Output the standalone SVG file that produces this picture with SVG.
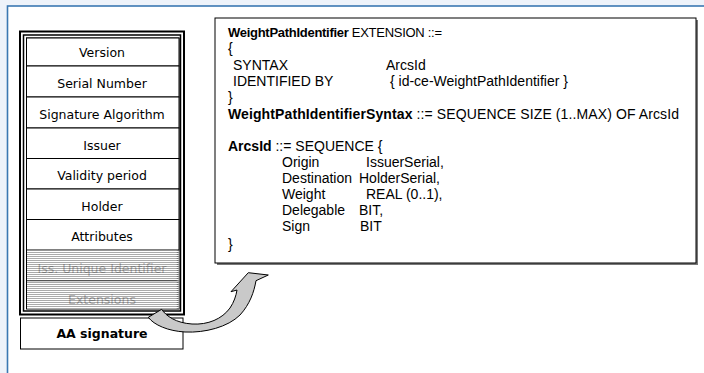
<svg xmlns="http://www.w3.org/2000/svg" width="704" height="373" viewBox="0 0 704 373">
<style>
.f{font-family:"DejaVu Sans","Liberation Sans",sans-serif;font-size:12.5px;fill:#000;text-anchor:middle}
.g{font-family:"DejaVu Sans","Liberation Sans",sans-serif;font-size:12.5px;fill:#7a7a7a;text-anchor:middle}
.t{font-family:"Liberation Sans",Arial,sans-serif;font-size:14px;fill:#000}
.t1{font-family:"Liberation Sans",Arial,sans-serif;font-size:13px;fill:#000}
.b{font-weight:bold}
.row{fill:#fff;stroke:#000;stroke-width:1}
</style>
<defs>
<pattern id="hatch" width="4" height="2" patternUnits="userSpaceOnUse">
<rect width="4" height="2" fill="#fff"/>
<rect width="4" height="1" fill="#aaaaaa"/>
</pattern>
<pattern id="over" width="4" height="2" patternUnits="userSpaceOnUse">
<rect y="1" width="4" height="1" fill="#fff" fill-opacity="0.45"/>
</pattern>
</defs>
<rect width="704" height="373" fill="#eef3fa"/>
<rect x="7.5" y="6" width="710" height="380" fill="#fff" stroke="#3b78b2" stroke-width="1.6"/>

<g id="certificate">
<rect x="20" y="31.5" width="164" height="283" fill="#fff" stroke="#000" stroke-width="2"/>
<rect x="23.5" y="35" width="157" height="276" fill="none" stroke="#000" stroke-width="1.5"/>
<rect x="26.5" y="38" width="152.5" height="271" fill="#fff" stroke="#000" stroke-width="1"/>
</g>

<g id="version"><rect class="row" x="26.5" y="38" width="152.5" height="28"/><text class="f" x="102" y="56.5">Version</text></g>
<g id="serial-number"><rect class="row" x="26.5" y="66" width="152.5" height="31"/><text class="f" x="102" y="88">Serial Number</text></g>
<g id="signature-algorithm"><rect class="row" x="26.5" y="97" width="152.5" height="31"/><text class="f" x="102" y="118.5">Signature Algorithm</text></g>
<g id="issuer"><rect class="row" x="26.5" y="128" width="152.5" height="30.5"/><text class="f" x="102" y="149.5">Issuer</text></g>
<g id="validity-period"><rect class="row" x="26.5" y="158.5" width="152.5" height="30.5"/><text class="f" x="102" y="180">Validity period</text></g>
<g id="holder"><rect class="row" x="26.5" y="189" width="152.5" height="30.5"/><text class="f" x="102" y="211">Holder</text></g>
<g id="attributes"><rect class="row" x="26.5" y="219.5" width="152.5" height="30.5"/><text class="f" x="102" y="241">Attributes</text></g>
<g id="iss-unique-identifier"><rect x="27" y="250.5" width="151.5" height="30.5" fill="url(#hatch)"/><line x1="27" y1="281" x2="178" y2="281" stroke="#000" stroke-width="1"/><text class="g" x="102" y="272.5">Iss. Unique Identifier</text><rect x="27" y="250.5" width="151.5" height="30.5" fill="url(#over)"/></g>
<g id="extensions"><rect x="27" y="281.5" width="151.5" height="27.5" fill="url(#hatch)"/><text class="g" x="102" y="303.5">Extensions</text><rect x="27" y="281.5" width="151.5" height="27.5" fill="url(#over)"/><line x1="177.5" y1="250" x2="177.5" y2="309" stroke="#777" stroke-width="1.5" stroke-dasharray="1 1"/></g>

<g id="aa-signature"><rect x="20.5" y="318" width="162.5" height="31" fill="#fff" stroke="#000" stroke-width="1"/><text class="f b" x="102" y="337.5">AA signature</text></g>

<g id="extension-definition">
<rect x="217" y="20" width="481" height="245" fill="#777"/>
<rect x="215" y="18" width="481" height="245" fill="#fff" stroke="#000" stroke-width="1"/>
<text class="t1" x="228" y="37" textLength="214"><tspan class="b">WeightPathIdentifier</tspan> EXTENSION ::=</text>
<text class="t" x="228" y="53">{</text>
<text class="t" x="233" y="70">SYNTAX</text>
<text class="t" x="386" y="70">ArcsId</text>
<text class="t" x="233" y="86">IDENTIFIED BY</text>
<text class="t" x="390" y="86">{ id-ce-WeightPathIdentifier }</text>
<text class="t" x="228" y="102">}</text>
<text class="t" x="228" y="119" textLength="451"><tspan class="b">WeightPathIdentifierSyntax</tspan> ::= SEQUENCE SIZE (1..MAX) OF ArcsId</text>
<text class="t" x="228" y="151"><tspan class="b">ArcsId</tspan> ::= SEQUENCE {</text>
<text class="t" x="282" y="167">Origin</text><text class="t" x="366" y="167">IssuerSerial,</text>
<text class="t" x="282" y="183">Destination</text><text class="t" x="359" y="183">HolderSerial,</text>
<text class="t" x="282" y="199">Weight</text><text class="t" x="366" y="199">REAL (0..1),</text>
<text class="t" x="282" y="215">Delegable</text><text class="t" x="359" y="215">BIT,</text>
<text class="t" x="282" y="231">Sign</text><text class="t" x="360" y="231">BIT</text>
<text class="t" x="228" y="249">}</text>
</g>

<g id="connectors">
<path d="M161.7,309.3 C166,316 176,323 192,324 C208,325 222,319 230,308 C234,302 236,296 237,290 L231,291.7 L248.3,272.7 L268.3,275 L256,280.7 C254,292 250,304 240,315 C228,327 205,333 185,332 C168,331 154,325 148.3,317.3 Z" fill="#c9c9c9" stroke="#000" stroke-width="1"/>
</g>
</svg>
